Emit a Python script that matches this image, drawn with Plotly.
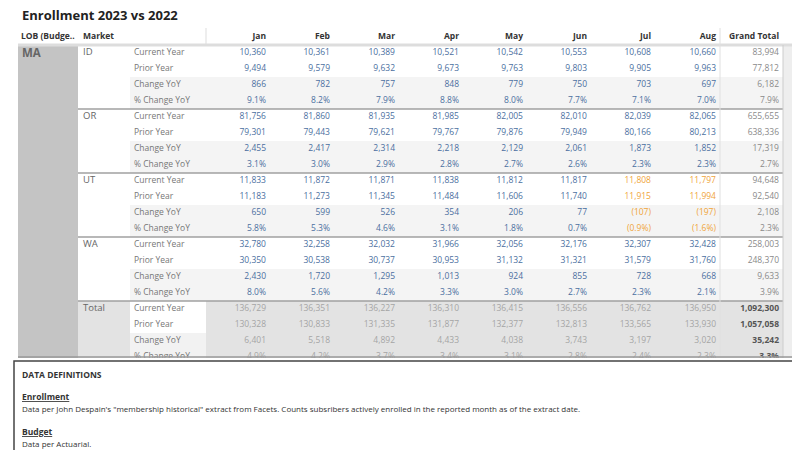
import plotly.graph_objects as go

months = ["Jan","Feb","Mar","Apr","May","Jun","Jul","Aug","Grand Total"]
markets = ["ID","OR","UT","WA","Total"]
measures = ["Current Year","Prior Year","Change YoY","% Change YoY"]

id_cur = [10360,10361,10389,10521,10542,10553,10608,10660,83994]
id_pri = [9494,9579,9632,9673,9763,9803,9905,9963,77812]
id_chg = [866,782,757,848,779,750,703,697,6182]
id_pct = [9.1,8.2,7.9,8.8,8.0,7.7,7.1,7.0,7.9]
or_cur = [81756,81860,81935,81985,82005,82010,82039,82065,655655]
or_pri = [79301,79443,79621,79767,79876,79949,80166,80213,638336]
or_chg = [2455,2417,2314,2218,2129,2061,1873,1852,17319]
or_pct = [3.1,3.0,2.9,2.8,2.7,2.6,2.3,2.3,2.7]
ut_cur = [11833,11872,11871,11838,11812,11817,11808,11797,94648]
ut_pri = [11183,11273,11345,11484,11606,11740,11915,11994,92540]
ut_chg = [650,599,526,354,206,77,-107,-197,2108]
ut_pct = [5.8,5.3,4.6,3.1,1.8,0.7,-0.9,-1.6,2.3]
wa_cur = [32780,32258,32032,31966,32056,32176,32307,32428,258003]
wa_pri = [30350,30538,30737,30953,31132,31321,31579,31760,248370]
wa_chg = [2430,1720,1295,1013,924,855,728,668,9633]
wa_pct = [8.0,5.6,4.2,3.3,3.0,2.7,2.3,2.1,3.9]
tot_cur = [136729,136351,136227,136310,136415,136556,136762,136950,1092300]
tot_pri = [130328,130833,131335,131877,132377,132813,133565,133930,1057058]
tot_chg = [6401,5518,4892,4433,4038,3743,3197,3020,35242]
tot_pct = [4.9,4.2,3.7,3.4,3.1,2.8,2.4,2.3,3.3]

data = {
    "ID": [id_cur,id_pri,id_chg,id_pct],
    "OR": [or_cur,or_pri,or_chg,or_pct],
    "UT": [ut_cur,ut_pri,ut_chg,ut_pct],
    "WA": [wa_cur,wa_pri,wa_chg,wa_pct],
    "Total": [tot_cur,tot_pri,tot_chg,tot_pct],
}

col_x = [258,322,387,451,515,579,643,708,771]
FONT = "Open Sans"
BLUE = "#4b6fa0"
ORANGE = "#f0a43a"
GREY = "#8a8a8a"

def fmt(v, pct):
    if pct:
        s = f"{abs(v):.1f}%"
    else:
        s = f"{abs(v):,}"
    return f"({s})" if v < 0 else s

fig = go.Figure()
shapes = []
def rect(x0,y0,x1,y1,fill,line=None):
    shapes.append(dict(type="rect",xref="x",yref="y",x0=x0,y0=y0,x1=x1,y1=y1,
                       fillcolor=fill,line=dict(width=0) if line is None else line,layer="below"))
def hline(x0,x1,y,color,w=1):
    shapes.append(dict(type="line",xref="x",yref="y",x0=x0,x1=x1,y0=y,y1=y,line=dict(color=color,width=w)))
def vline(x,y0,y1,color,w=1):
    shapes.append(dict(type="line",xref="x",yref="y",x0=x,x1=x,y0=y0,y1=y1,line=dict(color=color,width=w)))

row0 = 45; rh = 16
rect(10,37,70,350,"#c4c4c4")
rect(775,37,790,350,"#eeeeee")
for gi, m in enumerate(markets):
    top = row0 + gi*64 - 8
    if m == "Total":
        rect(70,top,122,top+64,"#e3e3e3")
        rect(198,top,775,top+64,"#e3e3e3")
        rect(122,top+32,198,top+64,"#f2f2f2")
    else:
        rect(122,top+32,775,top+64,"#f4f4f4")
    if gi > 0:
        hline(70,775,top,"#a0a0a0",1.5)
hline(10,790,37,"#dddddd",3)
vline(198,20,37,"#dddddd")
vline(712,20,350,"#e0e0e0")
vline(775,37,350,"#cccccc")
hline(10,790,349,"#999999",1.5)

fig.add_trace(go.Scatter(x=[13,75], y=[29,29], text=["<b>LOB (Budge..</b>","<b>Market</b>"], mode="text",
    textposition="middle right", textfont=dict(family=FONT,size=8.5,color="#333"), cliponaxis=True))
fig.add_trace(go.Scatter(x=col_x, y=[29]*len(col_x), text=[f"<b>{m}</b>" for m in months], mode="text",
    textposition="middle left", textfont=dict(family=FONT,size=8.5,color="#333"), cliponaxis=True))
fig.add_trace(go.Scatter(x=[14], y=[46], text=["<b>MA</b>"], mode="text", textposition="middle right",
    textfont=dict(family=FONT,size=11.5,color="#666"), cliponaxis=True))

for gi, m in enumerate(markets):
    base = row0 + gi*64
    fig.add_trace(go.Scatter(x=[75], y=[base], text=[m], mode="text", textposition="middle right",
        textfont=dict(family=FONT,size=9.5,color="#666"), cliponaxis=True))
    fig.add_trace(go.Scatter(x=[126]*4, y=[base+i*rh for i in range(4)], text=measures, mode="text",
        textposition="middle right", textfont=dict(family=FONT,size=8.5,color="#777"), cliponaxis=True))
    for ri, vals in enumerate(data[m]):
        y = base + ri*rh
        txt = [fmt(v, ri == 3) for v in vals]
        cols = []
        for ci, v in enumerate(vals):
            if m == "Total":
                cols.append("#555" if ci == 8 else "#a5a5a5")
            elif ci == 8:
                cols.append(GREY)
            elif m == "UT" and ci >= 6:
                cols.append(ORANGE)
            else:
                cols.append(BLUE)
        if m == "Total":
            txt = [f"<b>{t}</b>" if ci == 8 else t for ci, t in enumerate(txt)]
        fig.add_trace(go.Scatter(x=col_x, y=[y]*len(col_x), text=txt, mode="text", textposition="middle left",
            textfont=dict(family=FONT,size=8.5,color=cols), cliponaxis=True))

shapes.append(dict(type="rect",xref="paper",yref="paper",x0=6/800,x1=793/800,y0=-0.01,y1=(450-353)/450,
                   line=dict(color="#444",width=1.5),fillcolor="white"))
ann = []
def txt(x,y,s,size=8.5,color="#333"):
    ann.append(dict(xref="paper",yref="paper",x=x/800,y=(450-y)/450,text=s,showarrow=False,
                    xanchor="left",yanchor="middle",font=dict(family=FONT,size=size,color=color)))
txt(12,366,"<b>DATA DEFINITIONS</b>")
txt(12,388,"<b><u>Enrollment</u></b>")
txt(12,400,"Data per John Despain's \"membership historical\" extract from Facets. Counts subsribers actively enrolled in the reported month as of the extract date.", size=8)
txt(12,423,"<b><u>Budget</u></b>")
txt(12,435,"Data per Actuarial.", size=8)
ann.append(dict(xref="paper",yref="paper",x=12/800,y=(450-7)/450,text="<b>Enrollment 2023 vs 2022</b>",
                showarrow=False,xanchor="left",yanchor="middle",font=dict(family=FONT,size=13,color="#222")))

fig.update_layout(width=800,height=450,margin=dict(l=0,r=0,t=0,b=0),showlegend=False,
    plot_bgcolor="white",paper_bgcolor="white",shapes=shapes,annotations=ann,
    xaxis=dict(range=[0,800],visible=False,fixedrange=True),
    yaxis=dict(range=[350,0],visible=False,domain=[(450-350)/450,1],fixedrange=True))
fig.write_html("out.html")
